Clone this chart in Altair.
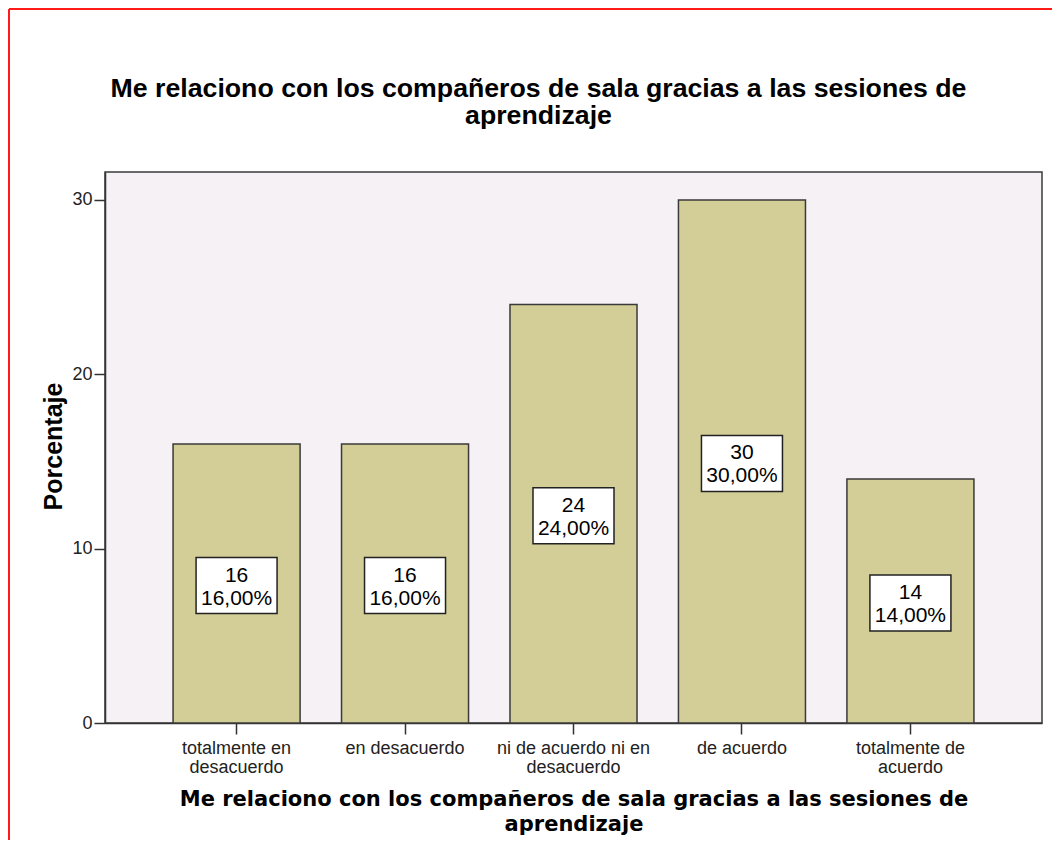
import altair as alt
import pandas as pd

categories = ["totalmente en desacuerdo", "en desacuerdo", "ni de acuerdo ni en desacuerdo",
              "de acuerdo", "totalmente de acuerdo"]
label_lines = [["totalmente en", "desacuerdo"], ["en desacuerdo"],
               ["ni de acuerdo ni en", "desacuerdo"], ["de acuerdo"],
               ["totalmente de", "acuerdo"]]
counts = [16, 16, 24, 30, 14]
percents = [16.0, 16.0, 24.0, 30.0, 14.0]
y_ticks = [0, 10, 20, 30]

title_lines = ["Me relaciono con los compañeros de sala gracias a las sesiones de", "aprendizaje"]

df = pd.DataFrame({
    "cat": categories,
    "pct": percents,
    "mid": [p / 2 for p in percents],
    "lbl": [f"{c}\n{p:.2f}%".replace(".", ",") for c, p in zip(counts, percents)],
})

# label expression for multi-line x tick labels
expr = "''"
for cat, lines in reversed(list(zip(categories, label_lines))):
    arr = "[" + ",".join("'" + l + "'" for l in lines) + "]"
    expr = f"datum.label == '{cat}' ? {arr} : ({expr})"

W, H = 937, 551

x_enc = alt.X("cat:N", sort=categories,
              scale=alt.Scale(paddingInner=0.246, paddingOuter=0.404),
              axis=alt.Axis(title=title_lines, labelExpr=expr, labelAngle=0,
                            labelFont="Liberation Sans", labelFontSize=18, labelColor="#222",
                            labelLineHeight=19, labelPadding=5, labelBaseline="top",
                            tickSize=11, tickWidth=1.5, tickColor="#333",
                            domainColor="#333", domainWidth=1.5,
                            titleFont="DejaVu Sans", titleFontSize=21, titleFontWeight="bold",
                            titleColor="black", titleLineHeight=25, titlePadding=12))
y_scale = alt.Scale(domain=[0, 31.6], nice=False)
y_enc = alt.Y("pct:Q", scale=y_scale,
              axis=alt.Axis(title="Porcentaje", values=y_ticks, grid=False,
                            labelFont="Liberation Sans", labelFontSize=18, labelColor="#222",
                            labelPadding=2, tickSize=11, tickWidth=1.5, tickColor="#333",
                            domainColor="#333", domainWidth=1.5,
                            titleFont="Liberation Sans", titleFontSize=25, titleFontWeight="bold",
                            titleColor="black", titleX=-52, titleY=274, titleAngle=270,
                            titleAlign="center", titleBaseline="middle"))

bars = alt.Chart(df).mark_bar(color="#D3CE97", stroke="#3a3a3a", strokeWidth=1.5).encode(
    x=x_enc, y=y_enc)

boxes = alt.Chart(df).mark_point(
    shape="M-1,-0.69L1,-0.69L1,0.69L-1,0.69Z", size=81 * 81, filled=True,
    fill="white", stroke="#222", strokeWidth=1.5, opacity=1, yOffset=2).encode(
    x=alt.X("cat:N", sort=categories), y=alt.Y("mid:Q", scale=y_scale))

texts = alt.Chart(df).mark_text(
    lineBreak="\n", font="Liberation Sans", fontSize=21, lineHeight=23,
    color="black", baseline="middle", align="center", dy=-8).encode(
    x=alt.X("cat:N", sort=categories), y=alt.Y("mid:Q", scale=y_scale), text="lbl:N")

frame_df = pd.DataFrame({"k": [0]})
red_top = alt.Chart(frame_df).mark_rule(color="#FF1A1A", strokeWidth=2).encode(
    x=alt.value(-96), x2=alt.value(W + 40), y=alt.value(-163))
red_left = alt.Chart(frame_df).mark_rule(color="#FF1A1A", strokeWidth=2).encode(
    x=alt.value(-96), y=alt.value(-163), y2=alt.value(H + 200))

chart = alt.layer(bars, boxes, texts, red_top, red_left).properties(
    width=W, height=H,
    title=alt.TitleParams(text=title_lines, font="Liberation Sans", fontSize=26.7,
                          fontWeight="bold", color="black", anchor="middle", dx=-35,
                          offset=-122, lineHeight=27.5),
    autosize=alt.AutoSizeParams(type="none"),
    padding={"left": 97, "top": 164, "right": 10, "bottom": 117},
    background="white",
).configure_view(fill="#F5F1F5", stroke="#3a3a3a", strokeWidth=1.5)

chart.save("out.html", embed_options={"renderer": "svg", "actions": False})
